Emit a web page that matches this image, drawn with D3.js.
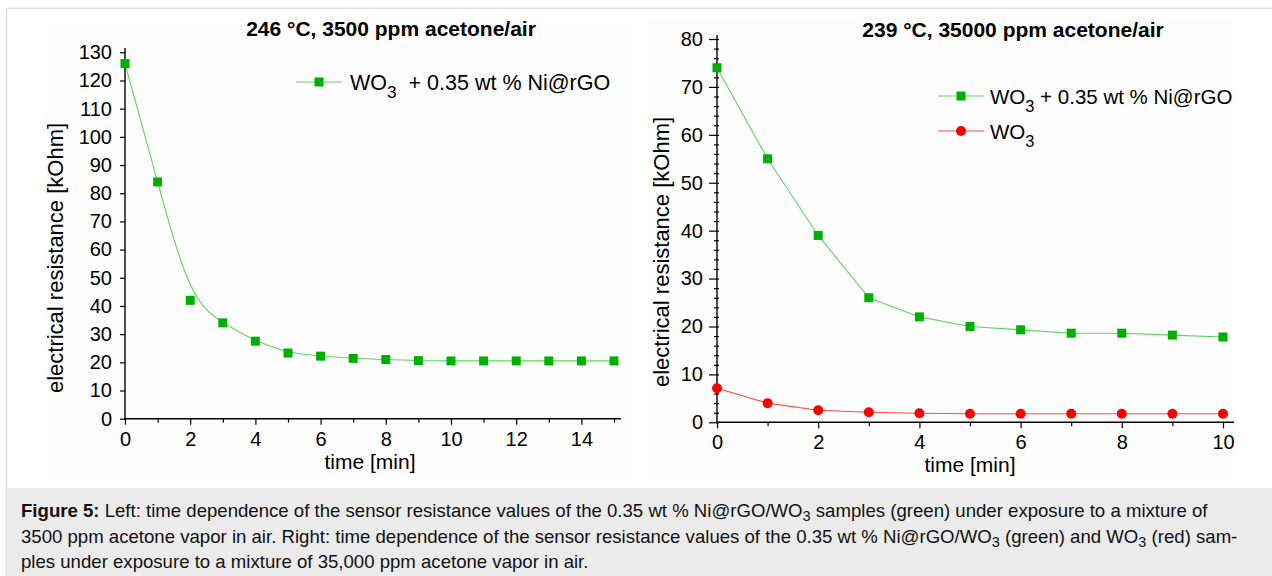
<!DOCTYPE html>
<html>
<head>
<meta charset="utf-8">
<script src="https://cdn.jsdelivr.net/npm/d3@7"></script>
<style>
  html, body { margin: 0; padding: 0; background: #fff; }
  svg { display: block; font-family: 'Liberation Sans', Arial, sans-serif; }
  .tick text { font-family: 'Liberation Sans', Arial, sans-serif; fill: #000; }
</style>
</head>
<body>
<svg></svg>
<script>
// ---- data ----
var leftTime = [0, 1, 2, 3, 4, 5, 6, 7, 8, 9, 10, 11, 12, 13, 14, 15];
var leftNiRgo = [126, 84, 42, 34, 27.5, 23.3, 22.2, 21.4, 21, 20.6, 20.5, 20.5, 20.5, 20.5, 20.5, 20.5];

var rightTime = [0, 1, 2, 3, 4, 5, 6, 7, 8, 9, 10];
var rightNiRgo = [74, 55, 39, 26, 22, 20, 19.3, 18.6, 18.6, 18.2, 17.8];
var rightWO3 = [7.1, 4.0, 2.5, 2.1, 1.9, 1.8, 1.8, 1.8, 1.8, 1.8, 1.8];

var leftYTicks = d3.range(0, 131, 10);
var rightYTicks = d3.range(0, 81, 10);
var rightYMinor = d3.range(2, 80, 2).filter(d => d % 10 !== 0);
var leftXTicks = d3.range(0, 15, 2);
var rightXTicks = d3.range(0, 11, 2);

var width = 1272;
var height = 576;
var green = '#00b000';
var greenLine = '#5fd35f';
var red = '#ff0000';
var redLine = '#ff4a4a';

var svg = d3.select('svg')
			.attr('width', width)
			.attr('height', height);

// frame + caption box
svg.append('rect')
   .attr('x', 6.5).attr('y', 8.5)
   .attr('width', width).attr('height', height)
   .attr('fill', '#fff')
   .attr('stroke', '#dedede')
   .attr('stroke-width', 1.5);
svg.append('rect')
   .attr('x', 45).attr('y', 20).attr('width', 588).attr('height', 457)
   .attr('fill', '#fdfdfd');
svg.append('rect')
   .attr('x', 646).attr('y', 18).attr('width', 590).attr('height', 459)
   .attr('fill', '#fdfdfd');
svg.append('rect')
   .attr('x', 7).attr('y', 488)
   .attr('width', width).attr('height', height - 488)
   .attr('fill', '#ebebeb');

// ---- left panel ----
var xLeft = d3.scaleLinear().domain([0, 15]).range([125, 614]);
var yLeft = d3.scaleLinear().domain([0, 130]).range([418.7, 52.3]);

drawAxes(xLeft, yLeft, {
	xMajor: leftXTicks, xMinor: d3.range(1, 16, 2),
	yMajor: leftYTicks, yMinor: [],
	xEnd: 621, yTop: 48, yTick: 5, yPad: 8
});

svg.append('path')
   .datum(leftTime.map((t, i) => [t, leftNiRgo[i]]))
   .attr('fill', 'none')
   .attr('stroke', greenLine)
   .attr('stroke-width', 1.1)
   .attr('d', d3.line().x(d => xLeft(d[0])).y(d => yLeft(d[1])).curve(d3.curveBasis));

squares(leftTime, leftNiRgo, xLeft, yLeft);

svg.append('text')
   .attr('x', 391).attr('y', 36)
   .attr('text-anchor', 'middle')
   .attr('font-weight', 'bold')
   .attr('font-size', '21px')
   .text('246 °C, 3500 ppm acetone/air');

labels(370, 469, 63, 258);

legendEntry(296, 82, 'square', greenLine, green, 350, 90, 21.5, ' + 0.35 wt % Ni@rGO', 6);

// ---- right panel ----
var xRight = d3.scaleLinear().domain([0, 10]).range([717, 1223]);
var yRight = d3.scaleLinear().domain([0, 80]).range([422.3, 39]);

drawAxes(xRight, yRight, {
	xMajor: rightXTicks, xMinor: d3.range(1, 10, 2),
	yMajor: rightYTicks, yMinor: rightYMinor,
	xEnd: 1234, yTop: 35, yTick: 8, yPad: 6
});

svg.append('path')
   .datum(rightTime.map((t, i) => [t, rightNiRgo[i]]))
   .attr('fill', 'none')
   .attr('stroke', greenLine)
   .attr('stroke-width', 1.1)
   .attr('d', d3.line().x(d => xRight(d[0])).y(d => yRight(d[1])));
svg.append('path')
   .datum(rightTime.map((t, i) => [t, rightWO3[i]]))
   .attr('fill', 'none')
   .attr('stroke', redLine)
   .attr('stroke-width', 1.1)
   .attr('d', d3.line().x(d => xRight(d[0])).y(d => yRight(d[1])));

squares(rightTime, rightNiRgo, xRight, yRight);

svg.append('g')
   .selectAll('circle')
   .data(rightTime)
   .enter()
   .append('circle')
     .attr('cx', d => xRight(d))
     .attr('cy', (d, i) => yRight(rightWO3[i]))
     .attr('r', 5)
     .attr('fill', red);

svg.append('text')
   .attr('x', 1013).attr('y', 37)
   .attr('text-anchor', 'middle')
   .attr('font-weight', 'bold')
   .attr('font-size', '21px')
   .text('239 °C, 35000 ppm acetone/air');

labels(970, 472, 669, 252);

legendEntry(938, 96, 'square', greenLine, green, 990, 104, 20.5, ' + 0.35 wt % Ni@rGO', 0);
legendEntry(938, 131, 'circle', redLine, red, 990, 139, 20.5, '', 0);

// ---- caption ----
var cap = svg.append('text')
			 .attr('font-size', '18.6px')
			 .attr('fill', '#111');
var line1 = cap.append('tspan').attr('x', 21).attr('y', 517);
line1.append('tspan').attr('font-weight', 'bold').text('Figure 5:');
line1.append('tspan').text(' Left: time dependence of the sensor resistance values of the 0.35 wt % Ni@rGO/WO');
sub(line1, '3');
line1.append('tspan').attr('dy', -4).text(' samples (green) under exposure to a mixture of');

var line2 = cap.append('tspan').attr('x', 21).attr('y', 543);
line2.append('tspan').text('3500 ppm acetone vapor in air. Right: time dependence of the sensor resistance values of the 0.35 wt % Ni@rGO/WO');
sub(line2, '3');
line2.append('tspan').attr('dy', -4).text(' (green) and WO');
sub(line2, '3');
line2.append('tspan').attr('dy', -4).text(' (red) sam-');

cap.append('tspan').attr('x', 21).attr('y', 568)
   .text('ples under exposure to a mixture of 35,000 ppm acetone vapor in air.');


function sub(parent, t) {
	parent.append('tspan').attr('dy', 4).attr('font-size', '0.78em').text(t);
}

function drawAxes(x, y, o) {
	var x0 = x.range()[0];
	var y0 = y.range()[0];

	svg.append('g')
	   .attr('transform', `translate(0, ${y0})`)
	   .call(d3.axisBottom(x).tickValues(o.xMajor).tickFormat(d3.format('d'))
	   		.tickSize(6).tickSizeOuter(0).tickPadding(7));
	svg.append('g')
	   .attr('transform', `translate(0, ${y0})`)
	   .call(d3.axisBottom(x).tickValues(o.xMinor).tickFormat('').tickSize(4).tickSizeOuter(0));

	var yAxis = svg.append('g')
				   .attr('transform', `translate(${x0}, 0)`)
				   .call(d3.axisLeft(y).tickValues(o.yMajor)
				   		.tickSize(o.yTick).tickSizeOuter(0).tickPadding(o.yPad));
	if(o.yMinor.length > 0) {
		yAxis.selectAll('.tick line').attr('x2', -o.yTick).attr('x1', 2);
		svg.append('g')
		   .attr('transform', `translate(${x0}, 0)`)
		   .call(d3.axisLeft(y).tickValues(o.yMinor).tickFormat('').tickSize(3).tickSizeOuter(0))
		   .selectAll('.tick line').attr('x1', 2);
	}

	svg.selectAll('.domain').remove();
	svg.selectAll('.tick text').attr('font-size', '20px');
	svg.selectAll('.tick line').attr('stroke', '#000').attr('stroke-width', 1.2);

	svg.append('line')
	   .attr('x1', x0).attr('x2', x0).attr('y1', o.yTop).attr('y2', y0 + 0.6)
	   .attr('stroke', '#000').attr('stroke-width', 1.4);
	svg.append('line')
	   .attr('x1', x0 - 0.7).attr('x2', o.xEnd).attr('y1', y0).attr('y2', y0)
	   .attr('stroke', '#000').attr('stroke-width', 1.4);
}

function squares(ts, vals, x, y) {
	svg.append('g')
	   .selectAll('rect')
	   .data(ts)
	   .enter()
	   .append('rect')
	     .attr('x', d => x(d) - 4.5)
	     .attr('y', (d, i) => y(vals[i]) - 4.5)
	     .attr('width', 9)
	     .attr('height', 9)
	     .attr('fill', green);
}

function labels(xx, xy, yx, yy) {
	svg.append('text')
	   .attr('x', xx).attr('y', xy)
	   .attr('text-anchor', 'middle')
	   .attr('font-size', '21px')
	   .text('time [min]');
	svg.append('text')
	   .attr('transform', `translate(${yx}, ${yy}) rotate(-90)`)
	   .attr('text-anchor', 'middle')
	   .attr('font-size', '22px')
	   .text('electrical resistance [kOhm]');
}

function legendEntry(lx, ly, shape, lineColor, color, tx, ty, size, rest, gap) {
	svg.append('line')
	   .attr('x1', lx).attr('x2', lx + 46).attr('y1', ly).attr('y2', ly)
	   .attr('stroke', lineColor).attr('stroke-width', 1.1);
	if(shape === 'square')
		svg.append('rect')
		   .attr('x', lx + 23 - 4.5).attr('y', ly - 4.5)
		   .attr('width', 9).attr('height', 9)
		   .attr('fill', color);
	else
		svg.append('circle')
		   .attr('cx', lx + 23).attr('cy', ly).attr('r', 5)
		   .attr('fill', color);

	var t = svg.append('text')
			   .attr('x', tx).attr('y', ty)
			   .attr('font-size', size + 'px');
	t.append('tspan').text('WO');
	t.append('tspan').attr('dy', 8).attr('font-size', '0.8em').text('3');
	if(rest !== '') t.append('tspan').attr('dy', -8).attr('dx', gap).text(rest);
}
</script>
</body>
</html>
